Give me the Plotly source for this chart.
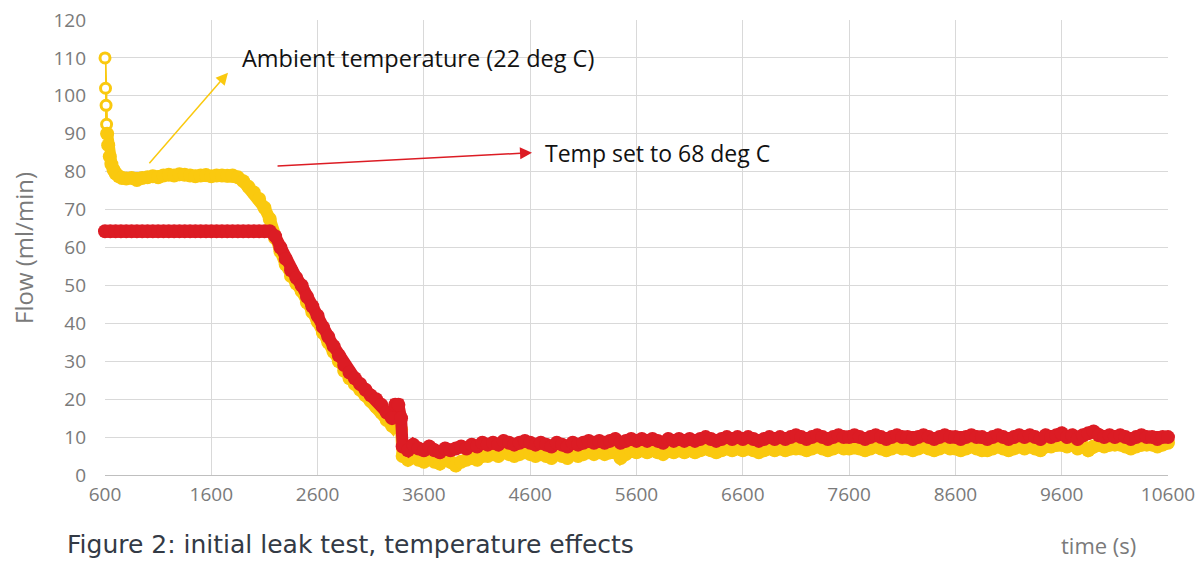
import plotly.graph_objects as go

# ---------------- data ----------------
# Ambient-temperature series (yellow): first hollow samples, then dense band
amb_time_start = [600, 605, 610, 615, 620]
amb_flow_start = [110, 102, 97.5, 92.5, 90]

amb_time_band = [620, 630, 645, 660, 680, 700, 730, 760] + list(range(800, 3301, 50)) + [3330, 3360, 3385]
amb_flow_band = [90, 87, 84, 82, 80.5, 79.5, 78.8, 78.3,
                 78.2, 78.3, 77.8, 78.3, 78.5, 78.8, 78.5, 79, 79.2, 79, 79.3, 79.2,
                 79, 78.8, 79, 79.1, 78.8, 79, 79, 78.9, 79,
                 78.5, 77.5, 76, 74.5, 72.8, 70.5, 67.5, 62.5, 59, 55.5, 52.5, 50.5,
                 48.5, 45.5, 43, 40.5, 37.5, 35, 32.5, 30, 27.5, 25.5, 24, 22.5, 21,
                 19.5, 18, 16.5, 14.5, 13,
                 15, 15.5, 12]

late_time = list(range(3400, 10601, 50))
amb_flow_late = [
    5, 4, 5, 4, 3.5, 4.5, 3.5, 3, 4, 3.5, 2.5, 3.5, 4, 4.5, 4, 5, 5, 5.5, 5, 6,
    5.5, 5, 5.5, 6, 5.5, 5, 5.5, 5, 4.5, 5.5, 5, 4.5, 5.5, 5, 5.5, 6, 5.5, 6, 5.5, 6,
    6, 4.5, 5.5, 6.5, 6, 6.5, 6, 6.5, 6, 5.5, 6.5, 6, 6.5, 6, 6.5, 6, 6.5, 7, 6.5, 6,
    6.5, 7, 6.5, 7, 6.5, 7, 6.5, 6, 6.5, 7, 6.5, 7, 6.5, 7, 7, 7, 6.5, 7, 7.5, 7,
    6.5, 7, 7.5, 7, 7, 7.5, 7, 6.5, 7, 7.5, 7, 6.5, 7, 7.5, 7, 7, 6.5, 7, 7.5, 7,
    6.5, 7, 7.5, 7, 7, 6.5, 7, 7.5, 7, 6.5, 6.5, 7, 7.5, 7, 6.5, 7, 7.5, 7, 7.5, 7,
    6.5, 7.5, 7.5, 8, 8, 7.5, 8, 7, 7.5, 6.5, 7.5, 8, 7.5, 8, 8, 8, 7.5, 7, 7.5, 8,
    8, 8, 7.5, 8, 8.5]

# 68 deg C series (red)
hot_time_early = list(range(600, 3301, 50)) + [3330, 3360, 3385]
hot_flow_early = [64.3, 64.3, 64.3, 64.3, 64.3, 64.3, 64.3, 64.3, 64.3, 64.3, 64.3,
                  64.3, 64.3, 64.3, 64.3, 64.3, 64.3, 64.3, 64.3, 64.3, 64.3, 64.3,
                  64.3, 64.3, 64.3, 64.3, 64.3, 64.3, 64.3, 64.3, 64.3, 64.3,
                  63, 60, 57, 54, 52, 50, 47, 44.5, 42, 39, 36.5, 34, 31.5, 29, 27,
                  25.5, 24, 22.5, 21, 20, 18.5, 16.5, 15,
                  18.5, 18.5, 15]
hot_flow_late = [
    7.5, 6.5, 8, 7, 6.5, 7.5, 6.5, 6, 7, 6.5, 7, 7.5, 7, 8, 7.5, 8.5, 8, 8.5, 8, 9,
    8.5, 8, 8.5, 9, 8.5, 8, 8.5, 8, 7.5, 8.5, 8, 7.5, 8.5, 8, 8.5, 9, 8.5, 9, 8.5, 9,
    9.5, 8.5, 9, 9.5, 9, 9.5, 9, 9.5, 9, 8.5, 9.5, 9, 9.5, 9, 9.5, 9, 9.5, 10, 9.5, 9,
    9.5, 10, 9.5, 10, 9.5, 10, 9.5, 9, 9.5, 10, 9.5, 10, 9.5, 10, 10.5, 10, 9.5, 10, 10.5, 10,
    9.5, 10, 10.5, 10, 10, 10.5, 10, 9.5, 10, 10.5, 10, 9.5, 10, 10.5, 10, 10, 9.5, 10, 10.5, 10,
    9.5, 10, 10.5, 10, 10, 9.5, 10, 10.5, 10, 10, 9.5, 10, 10.5, 10, 9.5, 10, 10.5, 10, 10.5, 10,
    9.5, 10.5, 10, 10.5, 11, 10, 10.5, 9.5, 10.5, 11, 11.5, 10.5, 10, 10.5, 10, 10.5, 10, 9.5, 10, 10.5,
    10, 10, 9.5, 10, 10]

x_ticks = [600, 1600, 2600, 3600, 4600, 5600, 6600, 7600, 8600, 9600, 10600]
y_ticks = [0, 10, 20, 30, 40, 50, 60, 70, 80, 90, 100, 110, 120]

YELLOW = "#FAC90F"
RED = "#DC1C24"

fig = go.Figure()
# hollow first samples
fig.add_trace(go.Scatter(
    x=amb_time_start, y=amb_flow_start, mode="lines+markers",
    line=dict(color=YELLOW, width=3),
    marker=dict(symbol="circle", size=10, color="white",
                line=dict(color=YELLOW, width=3)),
    cliponaxis=False, showlegend=False, hoverinfo="x+y"))
# dense yellow band
fig.add_trace(go.Scatter(
    x=amb_time_band + late_time, y=amb_flow_band + amb_flow_late, mode="lines+markers",
    line=dict(color=YELLOW, width=12),
    marker=dict(symbol="circle", size=14, color=YELLOW,
                line=dict(color=YELLOW, width=0)),
    cliponaxis=False, showlegend=False, hoverinfo="x+y"))
# red band
fig.add_trace(go.Scatter(
    x=hot_time_early + late_time, y=hot_flow_early + hot_flow_late, mode="lines+markers",
    line=dict(color=RED, width=12),
    marker=dict(symbol="circle", size=14, color=RED,
                line=dict(color=RED, width=0)),
    cliponaxis=False, showlegend=False, hoverinfo="x+y"))

tick_font = dict(family="Open Sans", size=19, color="#7a7a7a")

fig.update_xaxes(range=[600, 10600], tickvals=x_ticks, ticktext=[str(v) for v in x_ticks],
                 showgrid=True, gridcolor="#d9d9d9", gridwidth=1,
                 showline=True, linecolor="#bfbfbf", linewidth=1,
                 zeroline=False, tickfont=tick_font, ticks="", automargin=False,
                 ticklabelstandoff=2)
fig.update_yaxes(range=[0, 120], tickvals=y_ticks,
                 showgrid=True, gridcolor="#d9d9d9", gridwidth=1,
                 showline=False, zeroline=False, tickfont=tick_font, ticks="",
                 automargin=False, ticklabelstandoff=18)

annotations = [
    # arrows
    dict(x=1757, y=106.1, ax=1005, ay=81.8, xref="x", yref="y", axref="x", ayref="y",
         text="", showarrow=True, arrowhead=2, arrowsize=1.6, arrowwidth=1.5,
         arrowcolor=YELLOW),
    dict(x=4617, y=85.0, ax=2209, ay=81.5, xref="x", yref="y", axref="x", ayref="y",
         text="", showarrow=True, arrowhead=2, arrowsize=1.6, arrowwidth=1.5,
         arrowcolor=RED),
    # labels
    dict(x=1870, y=110, xref="x", yref="y", text="Ambient temperature (22 deg C)",
         showarrow=False, xanchor="left", yanchor="middle",
         font=dict(family="Open Sans", size=23.5, color="#111111")),
    dict(x=4720, y=85, xref="x", yref="y", text="Temp set to 68 deg C",
         showarrow=False, xanchor="left", yanchor="middle",
         font=dict(family="Open Sans", size=23, color="#111111")),
    # axis titles
    dict(x=-0.0762, y=0.499, xref="paper", yref="paper", text="Flow (ml/min)",
         showarrow=False, textangle=-90, xanchor="center", yanchor="middle",
         font=dict(family="Open Sans", size=24, color="#7a7a7a")),
    dict(x=0.935, y=-0.153, xref="paper", yref="paper", text="time (s)",
         showarrow=False, xanchor="center", yanchor="middle",
         font=dict(family="Open Sans", size=22, color="#7a7a7a")),
    # figure caption
    dict(x=-0.0376, y=-0.153, xref="paper", yref="paper",
         text="Figure 2: initial leak test, temperature effects",
         showarrow=False, xanchor="left", yanchor="middle",
         font=dict(family="DejaVu Sans", size=25, color="#333a45")),
]

fig.update_layout(
    width=1199, height=561,
    margin=dict(l=105, r=31, t=20, b=86),
    paper_bgcolor="white", plot_bgcolor="white",
    annotations=annotations,
    showlegend=False,
)

fig.write_html("out.html")
